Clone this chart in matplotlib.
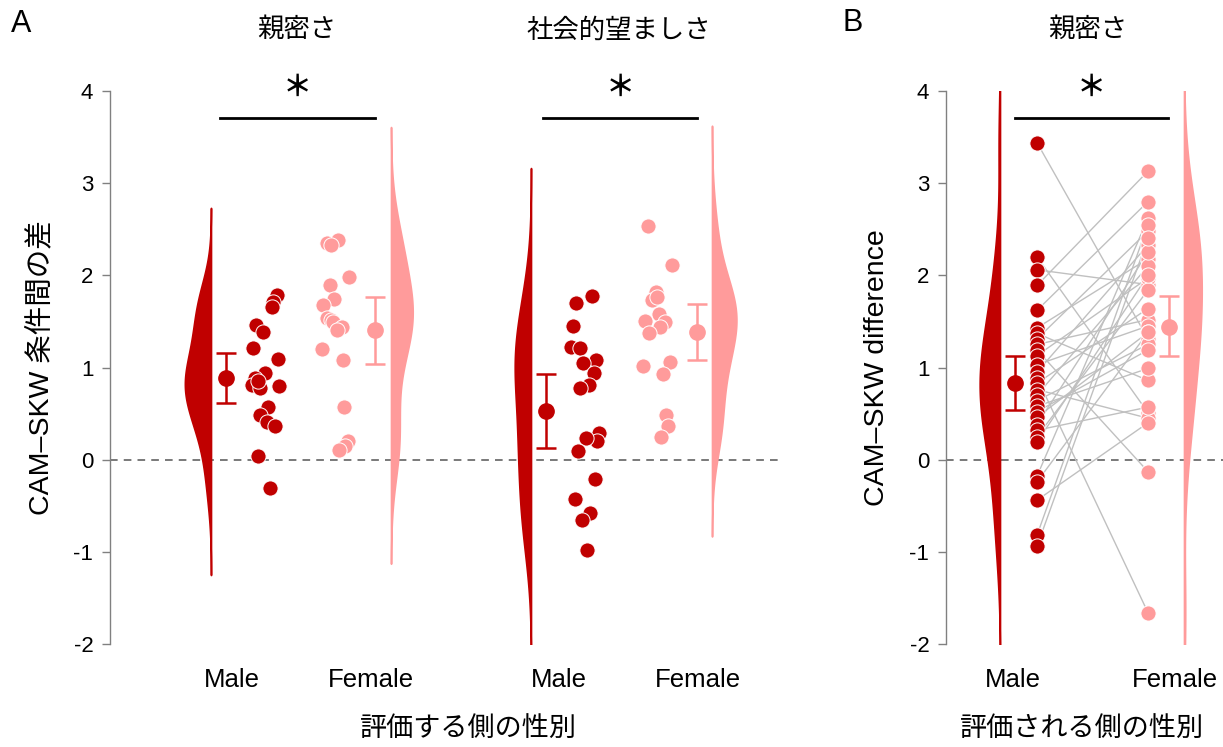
import matplotlib
matplotlib.use('Agg')
import matplotlib.pyplot as plt
import numpy as np

plt.rcParams['font.family'] = ['Liberation Sans', 'Noto Sans CJK JP']
plt.rcParams['axes.unicode_minus'] = False

DARK = '#C00000'
PINK = '#FF9B9B'
GREY_LINE = '#C0C0C0'

# ------------------------------------------------------------
#  Data
# ------------------------------------------------------------
# Panel A, 親密さ
a1_male = [1.79, 1.71, 1.66, 1.46, 1.39, 1.21, 1.09, 0.94, 0.89, 0.81, 0.78,
           0.80, 0.85, 0.57, 0.49, 0.41, 0.36, 0.04, -0.31]
a1_female = [2.35, 2.38, 2.33, 1.98, 1.89, 1.74, 1.68, 1.54, 1.52, 1.49, 1.44,
             1.41, 1.20, 1.08, 0.57, 0.20, 0.15, 0.10]
# Panel A, 社会的望ましさ
a2_male = [1.78, 1.70, 1.45, 1.22, 1.21, 1.08, 1.05, 0.94, 0.81, 0.78, 0.29,
           0.20, 0.24, 0.09, -0.21, -0.43, -0.58, -0.66, -0.98]
a2_female = [2.54, 2.11, 1.82, 1.73, 1.76, 1.58, 1.50, 1.49, 1.44, 1.37, 1.02,
             1.06, 0.93, 0.49, 0.36, 0.25]
# Panel B, 親密さ (paired: same index = same rater)
b_male = [3.44, 2.20, 2.06, 1.89, 1.62, 1.43, 1.37, 1.31, 1.25, 1.19, 1.13,
          1.03, 0.95, 0.89, 0.83, 0.76, 0.70, 0.64, 0.58, 0.52, 0.46, 0.38,
          0.32, 0.25, 0.19, -0.18, -0.24, -0.44, -0.82, -0.94]
b_female = [1.31, 0.51, 1.90, 3.13, 2.80, 2.18, 0.86, 2.48, 1.52, -0.13, 1.97,
            1.45, 2.33, -1.66, 1.64, 0.45, 2.10, 1.25, 0.99, 1.19, 1.38, 2.25,
            0.57, 1.84, 2.00, 2.62, 1.38, 0.40, 2.55, 2.40]

# means and 95% CI (mean, low, high)
a1_stats = [(0.89, 0.62, 1.16), (1.41, 1.04, 1.77)]
a2_stats = [(0.53, 0.13, 0.93), (1.39, 1.08, 1.69)]
b_stats = [(0.83, 0.54, 1.12), (1.44, 1.12, 1.78)]

titles_a = ['親密さ', '社会的望ましさ']
title_b = '親密さ'
xticklabels = ['Male', 'Female']
ylabel_a = 'CAM–SKW 条件間の差'
ylabel_b = 'CAM–SKW difference'
xlabel_a = '評価する側の性別'
xlabel_b = '評価される側の性別'

# ------------------------------------------------------------
#  Layout (x in pixel units of the 1223 px wide figure)
# ------------------------------------------------------------
# jitter columns of the single points
a1_male_x = [277, 273, 272, 256, 263, 253, 278, 265, 255, 252, 260, 279, 258,
             268, 260, 267, 275, 258, 270]
a1_female_x = [327, 338, 331, 349, 330, 334, 323, 327, 331, 333, 342, 337,
               322, 343, 344, 348, 345, 339]
a2_male_x = [592, 576, 573, 571, 580, 596, 583, 594, 589, 580, 599, 597, 586,
             578, 595, 575, 590, 582, 587]
a2_female_x = [648, 672, 656, 652, 657, 659, 645, 665, 660, 649, 643, 670,
               663, 666, 668, 661]


def kde(vals, pad=3.0):
    v = np.asarray(vals, float)
    n = len(v)
    bw = 1.0 * v.std(ddof=1) * n ** -0.2
    grid = np.linspace(v.min() - pad * bw, v.max() + pad * bw, 400)
    dens = np.exp(-0.5 * ((grid[:, None] - v[None, :]) / bw) ** 2).sum(1)
    dens /= n * bw * np.sqrt(2 * np.pi)
    return grid, dens


def half_violin(ax, vals, x0, side, color, scale):
    g, d = kde(vals)
    w = d * scale
    if side < 0:
        ax.fill_betweenx(g, x0 - w, x0, color=color, lw=1.2, ec=color, zorder=2)
    else:
        ax.fill_betweenx(g, x0, x0 + w, color=color, lw=1.2, ec=color, zorder=2)


def mean_ci(ax, x, stat, color):
    m, lo, hi = stat
    ax.errorbar([x], [m], yerr=[[m - lo], [hi - m]], fmt='o', color=color,
                ms=11, mec=color, elinewidth=1.8, capsize=7, capthick=1.8,
                zorder=4)


def dots(ax, xs, ys, color):
    ax.scatter(xs, ys, s=120, color=color, edgecolors='white', linewidths=0.7,
               zorder=5)


def style_axis(ax):
    ax.set_ylim(-2, 4)
    ax.set_yticks(range(-2, 5))
    for s in ['top', 'right', 'bottom']:
        ax.spines[s].set_visible(False)
    ax.spines['left'].set_color('#808080')
    ax.spines['left'].set_linewidth(1.0)
    ax.tick_params(axis='y', direction='out', length=6, width=1.0,
                   color='#808080', labelsize=16, pad=6)
    ax.tick_params(axis='x', length=0, labelsize=18.5, pad=17)
    ax.axhline(0, color='#555555', lw=1.1, ls=(0, (5, 4)), zorder=1)


def sig(ax, x1, x2):
    ax.plot([x1, x2], [3.71, 3.71], color='black', lw=2, clip_on=False)
    ax.text((x1 + x2) / 2, 4.04, '＊', ha='center', va='center', fontsize=21,
            family=['Noto Sans CJK JP'], fontweight='bold', clip_on=False)


W, H = 1223, 747
fig = plt.figure(figsize=(W / 100, H / 100), dpi=100)

y_bot, y_top = 644, 91
axA = fig.add_axes([110 / W, (H - y_bot) / H, (780 - 110) / W, (y_bot - y_top) / H])
axB = fig.add_axes([946 / W, (H - y_bot) / H, (W - 946) / W, (y_bot - y_top) / H])
axA.set_xlim(110, 780)
axB.set_xlim(946, W)
style_axis(axA)
style_axis(axB)
title_y = 1.0 + (y_top - 30) / (y_bot - y_top)
xlabel_y = -(716 - y_bot) / (y_bot - y_top)

# ---- panel A ----
scale_a = 41.0
groups = [
    (a1_male, a1_female, a1_male_x, a1_female_x, a1_stats, 211, 226, 375, 391),
    (a2_male, a2_female, a2_male_x, a2_female_x, a2_stats, 531, 546, 697, 712),
]
for male, female, mx, fx, stats, vm, mm, mf, vf in groups:
    half_violin(axA, male, vm, -1, DARK, scale_a)
    half_violin(axA, female, vf, 1, PINK, scale_a)
    mean_ci(axA, mm, stats[0], DARK)
    mean_ci(axA, mf, stats[1], PINK)
    dots(axA, mx, male, DARK)
    dots(axA, fx, female, PINK)

axA.set_xticks([232, 371, 559, 698])
axA.set_xticklabels(xticklabels * 2)
sig(axA, 220, 375)
sig(axA, 543, 697)
for x, t in zip([297, 619], titles_a):
    axA.text(x, title_y, t, transform=axA.get_xaxis_transform(),
             ha='center', va='center', fontsize=19)
axA.set_ylabel(ylabel_a, fontsize=20.5, labelpad=14)
axA.set_xlabel(xlabel_a, fontsize=19.5)
axA.xaxis.set_label_coords(468, xlabel_y, transform=axA.get_xaxis_transform())

# ---- panel B ----
scale_b = 46.0
bx_m, bx_f = 1037, 1148
for ym, yf in zip(b_male, b_female):
    axB.plot([bx_m, bx_f], [ym, yf], color=GREY_LINE, lw=1.0, zorder=3)
half_violin(axB, b_male, 1000, -1, DARK, scale_b)
half_violin(axB, b_female, 1184, 1, PINK, scale_b)
mean_ci(axB, 1015, b_stats[0], DARK)
mean_ci(axB, 1169, b_stats[1], PINK)
dots(axB, [bx_m] * len(b_male), b_male, DARK)
dots(axB, [bx_f] * len(b_female), b_female, PINK)
axB.set_xticks([1013, 1175])
axB.set_xticklabels(xticklabels)
sig(axB, 1015, 1168)
axB.text(1088, title_y, title_b, transform=axB.get_xaxis_transform(),
         ha='center', va='center', fontsize=19)
axB.set_ylabel(ylabel_b, fontsize=20.5, labelpad=14)
axB.set_xlabel(xlabel_b, fontsize=19.5)
axB.xaxis.set_label_coords(1082, xlabel_y, transform=axB.get_xaxis_transform())

fig.text(21 / W, 1 - 24 / H, 'A', fontsize=22, ha='center', va='center')
fig.text(853 / W, 1 - 23 / H, 'B', fontsize=22, ha='center', va='center')

fig.savefig('out.png', dpi=100)
